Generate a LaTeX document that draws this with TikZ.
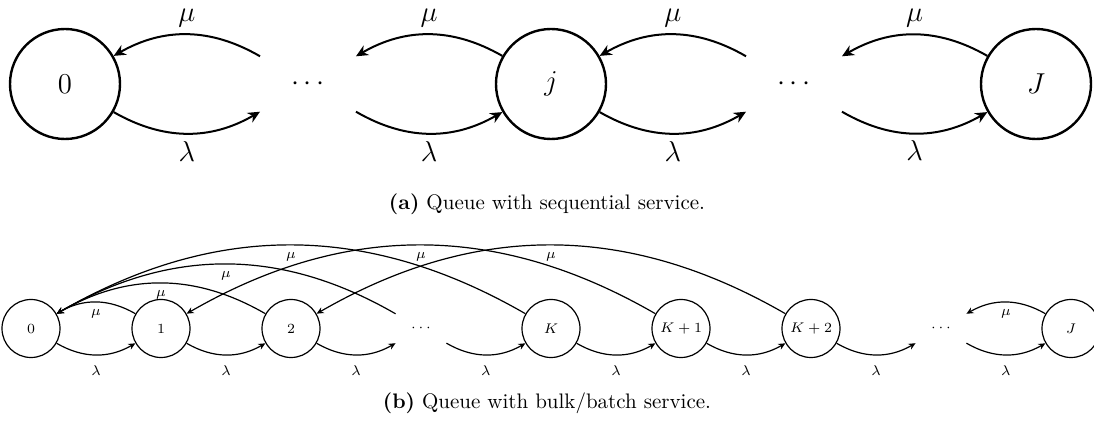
\documentclass[tikz,border=0pt]{standalone}
\usetikzlibrary{arrows.meta}
\begin{document}
\begin{tikzpicture}[x=0.5pt,y=0.5pt,
  topfont/.style={font=\fontsize{15.5}{18}\selectfont},
  botfont/.style={font=\fontsize{7.5}{9}\selectfont},
  topstate/.style={circle,draw,line width=1.2pt,minimum size=55pt,inner sep=0pt,topfont},
  topghost/.style={circle,minimum size=55pt,inner sep=0pt,topfont},
  toparc/.style={line width=1pt,-{Stealth[length=6pt,width=5.5pt]},bend right=30},
  botstate/.style={circle,draw,line width=0.6pt,minimum size=29pt,inner sep=0pt,botfont},
  botghost/.style={circle,minimum size=29pt,inner sep=0pt,botfont},
  botarc/.style={line width=0.6pt,-{Stealth[length=3.5pt,width=3.2pt]},bend right=30},
  captext/.style={font=\fontsize{10.5}{12.6}\selectfont,anchor=base}
]
\useasboundingbox (0,0) rectangle (1094,-426);
\clip (0,0) rectangle (1094,-426);

% (a) sequential service
\node[topstate] (t0) at (65,-84) {$0$};
\node[topghost] (t1) at (308,-84) {$\cdots$};
\node[topstate] (t2) at (551,-84) {$j$};
\node[topghost] (t3) at (794,-84) {$\cdots$};
\node[topstate] (t4) at (1036,-84) {$J$};
\foreach \a/\b in {t0/t1,t1/t2,t2/t3,t3/t4}{
  \draw[toparc] (\a) to node[below,topfont]{$\lambda$} (\b);
  \draw[toparc] (\b) to node[above,topfont]{$\mu$} (\a);
}
\node[captext] (capa) at (547,-210) {\textbf{(a)}\ Queue with sequential service.};

% (b) bulk/batch service
\node[botstate] (b0) at (31,-328.5) {$0$};
\node[botstate] (b1) at (161,-328.5) {$1$};
\node[botstate] (b2) at (291,-328.5) {$2$};
\node[botghost] (b3) at (421,-328.5) {$\cdots$};
\node[botstate] (b4) at (551,-328.5) {$K$};
\node[botstate] (b5) at (681,-328.5) {$K+1$};
\node[botstate] (b6) at (811,-328.5) {$K+2$};
\node[botghost] (b7) at (941,-328.5) {$\cdots$};
\node[botstate] (b8) at (1071,-328.5) {$J$};
\foreach \a/\b in {b0/b1,b1/b2,b2/b3,b3/b4,b4/b5,b5/b6,b6/b7,b7/b8}{
  \draw[botarc] (\a) to node[below=2pt,botfont]{$\lambda$} (\b);
}
\foreach \a/\b in {b1/b0,b2/b0,b3/b0,b4/b0,b5/b1,b6/b2,b8/b7}{
  \draw[botarc] (\a) to node[below,botfont]{$\mu$} (\b);
}
\node[captext] (capb) at (547,-409) {\textbf{(b)}\ Queue with bulk/batch service.};
\end{tikzpicture}
\end{document}
